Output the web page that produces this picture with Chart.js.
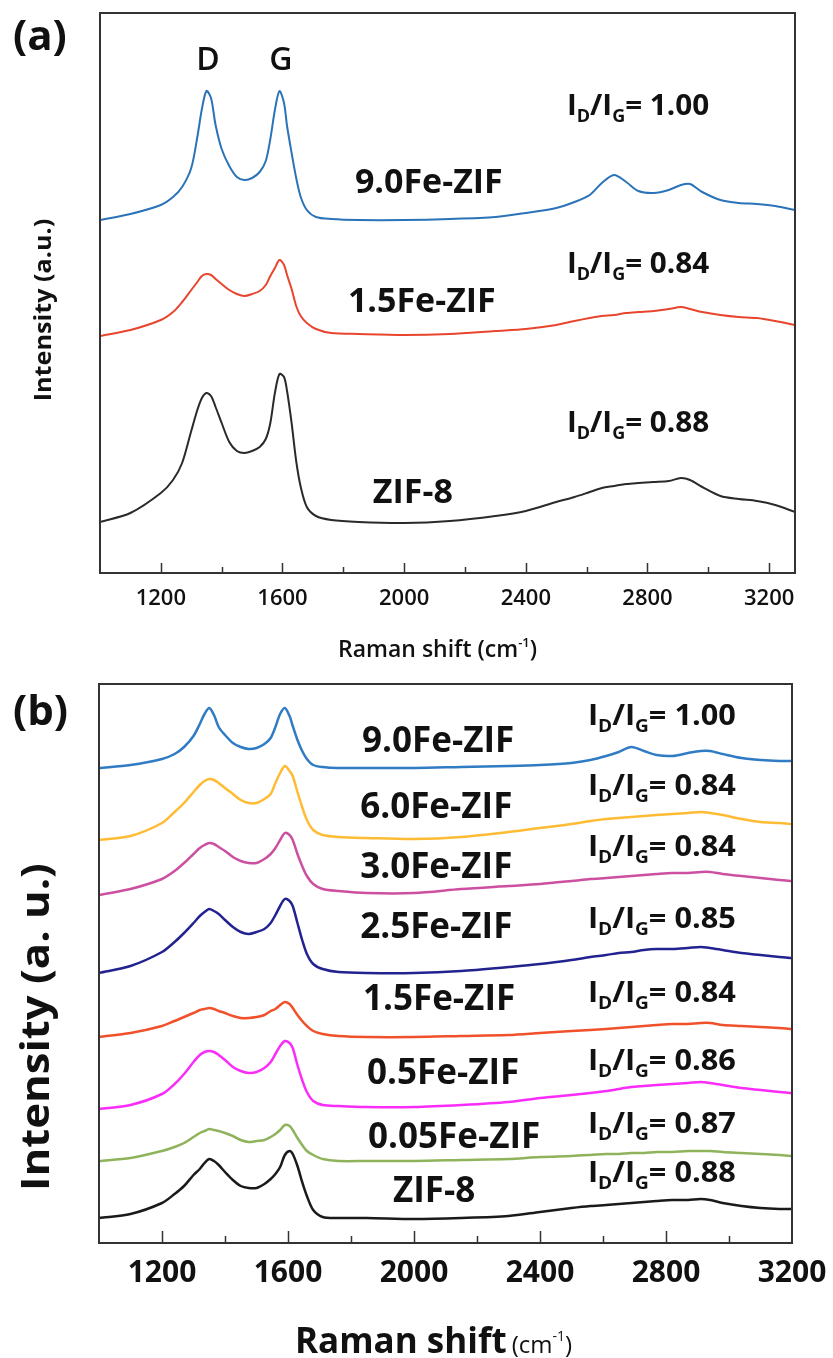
<!DOCTYPE html>
<html>
<head>
<meta charset="utf-8">
<script src="https://cdn.jsdelivr.net/npm/chart.js@4.4.1/dist/chart.umd.min.js"></script>
<style>
    html, body { margin: 0; padding: 0; background: #fff; }
    #wrap { position: relative; width: 833px; height: 1358px; }
    canvas { position: absolute; left: 0; }
    #panelA { top: 0; }
    #panelB { top: 680px; }
</style>
</head>
<body>
<div id="wrap">
    <canvas id="panelA" width="833" height="680"></canvas>
    <canvas id="panelB" width="833" height="678"></canvas>
</div>
<script>
// Raman spectra; intensities in a.u. with the stacking offset included

// panel (a)
const shiftA = [1000, 1100, 1200, 1240, 1270, 1300, 1320, 1335, 1350, 1365, 1380, 1400, 1425, 1450, 1475, 1500, 1525, 1545, 1560, 1575, 1590, 1605, 1615, 1630, 1645, 1660, 1680, 1710, 1760, 1850, 2000, 2150, 2300, 2400, 2500, 2560, 2610, 2650, 2690, 2730, 2770, 2820, 2870, 2910, 2940, 2980, 3040, 3100, 3160, 3220, 3285];
const fe90A = [353, 359, 368, 376, 386, 405, 436, 464, 482, 475, 448, 424, 407, 396, 393, 395, 401, 412, 434, 463, 482, 470, 447, 420, 395, 376, 363, 356, 354, 353, 353, 354, 356, 360, 365, 371, 378, 390, 398, 391, 382, 380, 383, 388, 389, 381, 373, 370, 369, 367, 363];
const fe15A = [237, 243, 253, 261, 271, 283, 291, 297, 299, 298, 294, 289, 283, 279, 277, 279, 282, 288, 297, 305, 313, 308, 298, 284, 267, 257, 250, 244, 240, 239, 238, 239, 242, 244, 248, 252, 255, 257, 258, 260, 261, 262, 264, 266, 264, 261, 258, 256, 255, 252, 248];
const zif8A = [51, 60, 80, 93, 110, 142, 163, 175, 180, 177, 166, 150, 131, 122, 120, 122, 126, 134, 150, 180, 199, 196, 182, 150, 112, 86, 66, 57, 53, 51, 50, 52, 57, 62, 71, 76, 81, 85, 87, 89, 90, 91, 92, 95, 93, 86, 77, 74, 72, 68, 61];
const namesA = ['9.0Fe-ZIF', '1.5Fe-ZIF', 'ZIF-8'];
const ratiosA = ['1.00', '0.84', '0.88'];

// panel (b)
const shiftB = [1000, 1100, 1200, 1240, 1270, 1300, 1320, 1335, 1350, 1365, 1380, 1400, 1425, 1450, 1475, 1500, 1525, 1545, 1560, 1575, 1590, 1605, 1615, 1630, 1645, 1660, 1680, 1710, 1760, 1850, 2000, 2150, 2300, 2400, 2500, 2560, 2610, 2650, 2690, 2730, 2770, 2820, 2870, 2910, 2940, 2980, 3040, 3100, 3160, 3200];
const fe90B = [475, 478, 484, 489, 496, 507, 519, 529, 535, 528, 516, 508, 500, 496, 494, 495, 499, 505, 516, 529, 535, 527, 517, 503, 492, 484, 478, 476, 475, 475, 475, 476, 477, 478, 480, 483, 487, 491, 496, 492, 488, 487, 490, 492, 492, 489, 485, 483, 482, 482];
const fe60B = [403, 407, 420, 431, 440, 451, 458, 462, 464, 463, 460, 455, 449, 443, 440, 440, 444, 449, 460, 470, 477, 472, 467, 451, 436, 423, 413, 408, 406, 405, 404, 406, 411, 415, 419, 422, 424, 425, 426, 427, 428, 429, 430, 431, 430, 428, 424, 421, 420, 419];
const fe30B = [348, 354, 364, 372, 380, 389, 395, 398, 400, 399, 396, 392, 386, 382, 380, 380, 384, 389, 395, 403, 410, 408, 403, 389, 377, 367, 359, 354, 352, 350, 350, 354, 357, 359, 362, 364, 365, 366, 367, 368, 369, 370, 370, 371, 371, 369, 367, 365, 363, 362];
const fe25B = [270, 277, 291, 301, 310, 320, 327, 331, 334, 332, 329, 323, 316, 311, 309, 311, 314, 320, 328, 337, 344, 342, 337, 320, 303, 289, 279, 274, 271, 270, 270, 272, 276, 279, 283, 286, 288, 290, 291, 293, 294, 294, 295, 296, 295, 293, 290, 288, 286, 285];
const fe15B = [206, 210, 217, 222, 226, 230, 233, 234, 235, 234, 232, 230, 227, 225, 225, 226, 228, 232, 234, 238, 241, 239, 235, 228, 222, 217, 212, 209, 207, 206, 206, 207, 208, 210, 212, 213, 214, 215, 216, 217, 218, 219, 219, 220, 220, 218, 217, 216, 215, 214];
const fe05B = [134, 138, 149, 159, 169, 181, 188, 191, 192, 191, 188, 183, 176, 172, 170, 171, 175, 181, 189, 197, 202, 200, 195, 178, 163, 151, 142, 138, 137, 136, 136, 138, 141, 145, 148, 150, 152, 154, 156, 157, 158, 159, 160, 161, 160, 158, 155, 153, 151, 150];
const fe005B = [82, 85, 92, 96, 100, 106, 110, 112, 114, 113, 112, 110, 107, 103, 101, 102, 103, 106, 109, 113, 118, 117, 113, 105, 98, 92, 88, 84, 82, 82, 82, 83, 84, 86, 87, 88, 89, 89, 90, 90, 91, 91, 92, 92, 92, 91, 90, 89, 88, 87];
const zif8B = [25, 29, 40, 49, 57, 68, 74, 80, 84, 82, 78, 71, 63, 57, 55, 55, 59, 64, 69, 76, 88, 92, 89, 77, 61, 47, 33, 26, 25, 25, 24, 25, 27, 31, 35, 37, 38, 39, 40, 41, 42, 43, 43, 44, 43, 40, 37, 35, 34, 34];
const namesB = ['9.0Fe-ZIF', '6.0Fe-ZIF', '3.0Fe-ZIF', '2.5Fe-ZIF', '1.5Fe-ZIF', '0.5Fe-ZIF', '0.05Fe-ZIF', 'ZIF-8'];
const ratiosB = ['1.00', '0.84', '0.84', '0.85', '0.84', '0.86', '0.87', '0.88'];

const xTickLabels = [1200, 1600, 2000, 2400, 2800, 3200];

const FONT = '"Open Sans", sans-serif';

// draws a run of text pieces (for sub/superscripts), sx stretches horizontally
function drawRich(ctx, parts, x, y, opt = {}) {
    let w = 0;
    parts.forEach(p => {
        ctx.font = `${p.weight || 700} ${p.size}px ${FONT}`;
        p.w = ctx.measureText(p.text).width + (p.gap || 0);
        w += p.w;
    });
    ctx.save();
    ctx.translate(x, y);
    if (opt.rotate) ctx.rotate(opt.rotate);
    ctx.scale(opt.sx || 1, 1);
    ctx.fillStyle = '#111';
    ctx.textBaseline = opt.baseline || 'alphabetic';
    let cx = opt.align === 'center' ? -w / 2 : 0;
    parts.forEach(p => {
        ctx.font = `${p.weight || 700} ${p.size}px ${FONT}`;
        ctx.fillText(p.text, cx, p.dy || 0);
        cx += p.w;
    });
    ctx.restore();
}

function ratioParts(val, S) {
    const s = Math.round(S * 0.62);
    const dy = Math.round(S * 0.25);
    return [
        { text: 'I', size: S },
        { text: 'D', size: s, dy: dy },
        { text: '/I', size: S },
        { text: 'G', size: s, dy: dy },
        { text: '= ' + val, size: S }
    ];
}

const textLayer = {
    id: 'textLayer',
    afterDatasetsDraw(chart, args, o) {
        const { ctx, chartArea: a, scales: { x, y } } = chart;
        ctx.save();
        ctx.strokeStyle = '#333';
        ctx.lineWidth = 2;
        ctx.strokeRect(a.left, a.top, a.right - a.left, a.bottom - a.top);

        // inward ticks, major every 400
        ctx.lineWidth = 1.5;
        ctx.beginPath();
        x.ticks.forEach(t => {
            if (t.value <= x.min || t.value >= x.max) return;
            const px = Math.round(x.getPixelForValue(t.value)) + 0.5;
            const len = t.value % 400 === 0 ? o.tickMajor : o.tickMinor;
            ctx.moveTo(px, a.bottom);
            ctx.lineTo(px, a.bottom - len);
        });
        ctx.stroke();
        ctx.restore();

        xTickLabels.forEach(v => {
            drawRich(ctx, [{ text: String(v), size: o.tickSize, weight: o.tickWeight }],
                x.getPixelForValue(v), o.tickY, { align: 'center' });
        });

        drawRich(ctx, o.xTitle, o.xTitlePos[0], o.xTitlePos[1]);
        drawRich(ctx, o.yTitle, o.yTitlePos[0], o.yTitlePos[1],
            { rotate: -Math.PI / 2, align: 'center', baseline: 'middle', sx: o.yTitleSx });
        drawRich(ctx, [{ text: o.tag, size: 42 }], o.tagPos[0], o.tagPos[1]);

        o.names.forEach((n, i) => {
            const p = o.namePos[i];
            drawRich(ctx, [{ text: n, size: o.nameSize }], x.getPixelForValue(p[0]), y.getPixelForValue(p[1]));
        });
        o.ratios.forEach((r, i) => {
            const p = o.ratioPos[i];
            drawRich(ctx, ratioParts(r, o.ratioSize), x.getPixelForValue(p[0]), y.getPixelForValue(p[1]), { sx: 1.06 });
        });
        (o.peaks || []).forEach(pk => {
            drawRich(ctx, [{ text: pk.text, size: 32, weight: 600 }],
                x.getPixelForValue(pk.x), y.getPixelForValue(pk.y), { align: 'center' });
        });
    }
};

function spectrum(shift, vals, color, width) {
    return {
        data: shift.map((x, i) => ({ x: x, y: vals[i] })),
        borderColor: color,
        borderWidth: width,
        pointRadius: 0,
        tension: 0.3,
        fill: false
    };
}

function makePanel(id, datasets, cfg, textOpts) {
    return new Chart(document.getElementById(id), {
        type: 'line',
        data: { datasets: datasets },
        plugins: [textLayer],
        options: {
            responsive: false,
            animation: false,
            devicePixelRatio: 1,
            layout: { padding: cfg.padding },
            plugins: {
                legend: { display: false },
                tooltip: { enabled: false },
                textLayer: textOpts
            },
            scales: {
                x: {
                    type: 'linear',
                    min: 1000,
                    max: cfg.xMax,
                    ticks: { display: false, stepSize: 200, includeBounds: false },
                    grid: { display: false },
                    border: { display: false },
                    afterFit: s => { s.height = cfg.axisH; }
                },
                y: { display: false, min: 0, max: cfg.yMax }
            }
        }
    });
}

makePanel('panelA', [
    spectrum(shiftA, fe90A, '#2b73b9', 2),
    spectrum(shiftA, fe15A, '#e8452f', 2),
    spectrum(shiftA, zif8A, '#2a2a2a', 2)
], { xMax: 3285, yMax: 560, axisH: 107, padding: { left: 100, right: 38, top: 13, bottom: 0 } }, {
    tickMajor: 10, tickMinor: 6, tickSize: 22, tickWeight: 600, tickY: 605,
    xTitle: [
        { text: 'Raman shift (cm', size: 23, weight: 600 },
        { text: '-1', size: 13, weight: 600, dy: -10 },
        { text: ')', size: 23, weight: 600 }
    ],
    xTitlePos: [338, 657],
    yTitle: [{ text: 'Intensity (a.u.)', size: 24 }],
    yTitlePos: [44, 310], yTitleSx: 1.05,
    tag: '(a)', tagPos: [13, 50],
    names: namesA, nameSize: 34,
    namePos: [[1838, 380], [1815, 261], [1897, 70]],
    ratios: ratiosA, ratioSize: 28,
    ratioPos: [[2535, 458], [2535, 300], [2535, 141]],
    peaks: [{ text: 'D', x: 1355, y: 503 }, { text: 'G', x: 1595, y: 503 }]
});

makePanel('panelB', [
    spectrum(shiftB, fe90B, '#2f7bc4', 2.5),
    spectrum(shiftB, fe60B, '#ffbb33', 2.5),
    spectrum(shiftB, fe30B, '#cc4fa0', 2.5),
    spectrum(shiftB, fe25B, '#222290', 2.5),
    spectrum(shiftB, fe15B, '#f0502a', 2.5),
    spectrum(shiftB, fe05B, '#fa2cfa', 2.5),
    spectrum(shiftB, fe005B, '#8fb35a', 2.5),
    spectrum(shiftB, zif8B, '#1a1a1a', 2.5)
], { xMax: 3200, yMax: 559, axisH: 115, padding: { left: 99, right: 41, top: 4, bottom: 0 } }, {
    tickMajor: 12, tickMinor: 7, tickSize: 30, tickWeight: 700, tickY: 602,
    xTitle: [
        { text: 'Raman shift', size: 35, gap: 5 },
        { text: '(cm', size: 24, weight: 400 },
        { text: '-1', size: 14, weight: 400, dy: -12 },
        { text: ')', size: 24, weight: 400 }
    ],
    xTitlePos: [295, 673],
    yTitle: [{ text: 'Intensity (a. u.)', size: 39 }],
    yTitlePos: [38, 347], yTitleSx: 1.12,
    tag: '(b)', tagPos: [13, 45],
    names: namesB, nameSize: 35,
    namePos: [[1835, 491], [1829, 425], [1829, 365], [1829, 305], [1838, 233], [1851, 159], [1854, 95], [1933, 41]],
    ratios: ratiosB, ratioSize: 29,
    ratioPos: [[2552, 518], [2552, 448], [2552, 387], [2552, 315], [2552, 241], [2552, 173], [2552, 110], [2552, 61]]
});
</script>
</body>
</html>
